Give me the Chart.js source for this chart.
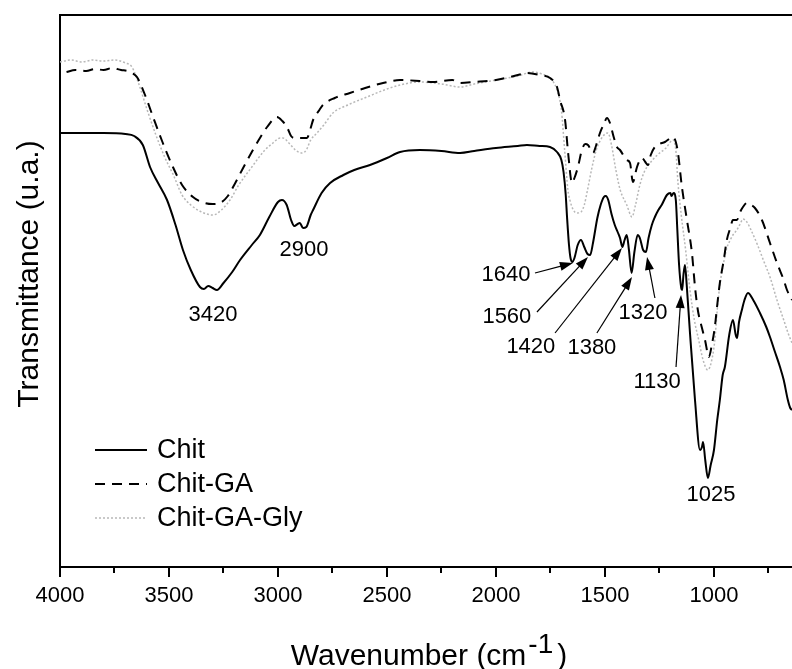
<!DOCTYPE html>
<html>
<head>
<meta charset="utf-8">
<title>FTIR - Chit / Chit-GA / Chit-GA-Gly</title>
<script src="https://cdn.jsdelivr.net/npm/chart.js@4.4.0/dist/chart.umd.min.js"></script>
<style>
  html, body { margin: 0; padding: 0; background: #fff; overflow: hidden; }
  canvas { display: block; }
</style>
</head>
<body>
<canvas id="ftirChart" width="792" height="669"></canvas>
<script>
// wavenumber (cm-1) and transmittance (arbitrary units)

const chitWn = [4000, 3900, 3800, 3700, 3660, 3620, 3587, 3550, 3509, 3470, 3436, 3400, 3358, 3340, 3320, 3300, 3280, 3250, 3210, 3174,
  3120, 3083, 3040, 3000, 2982, 2960, 2940, 2925, 2910, 2900, 2885, 2870, 2850, 2839, 2800, 2761, 2700, 2650, 2578, 2500,
  2440, 2349, 2250, 2165, 2100, 2000, 1900, 1858, 1800, 1752, 1720, 1700, 1690, 1680, 1674, 1665, 1658, 1650, 1640, 1625,
  1610, 1595, 1580, 1568, 1555, 1535, 1520, 1505, 1496, 1485, 1470, 1455, 1440, 1431, 1420, 1410, 1400, 1390, 1378, 1365,
  1350, 1340, 1325, 1312, 1300, 1285, 1271, 1255, 1240, 1216, 1200, 1195, 1185, 1175, 1168, 1160, 1150, 1146, 1140, 1133,
  1125, 1110, 1087, 1064, 1055, 1050, 1040, 1028, 1015, 1000, 985, 973, 960, 950, 930, 913, 900, 894, 885, 872,
  860, 844, 820, 789, 760, 743, 720, 697, 680, 661, 650, 642];
const chitT = [434, 434, 434, 433, 431, 422, 400, 384, 367, 342, 317, 297, 280, 278, 281, 279, 277, 284, 295, 307,
  322, 332, 350, 365, 367, 362, 347, 341, 343, 344, 339, 340, 352, 357, 374, 384, 392, 397, 402, 409,
  415, 417, 416, 414, 416, 419, 421, 422, 421, 420, 415, 407, 395, 372, 350, 322, 309, 305, 309, 322,
  327, 320, 313, 312, 324, 349, 362, 370, 371, 367, 353, 342, 334, 329, 320, 327, 332, 317, 294, 315,
  332, 329, 317, 315, 329, 342, 350, 357, 362, 372, 374, 371, 374, 367, 337, 302, 279, 277, 292, 302,
  282, 234, 167, 117, 120, 125, 107, 89, 102, 117, 147, 167, 192, 200, 232, 247, 232, 229, 245, 257,
  267, 274, 267, 254, 240, 230, 215, 200, 187, 167, 159, 157];

const chitGaWn = [3970, 3930, 3880, 3840, 3800, 3760, 3720, 3690, 3670, 3647, 3610, 3573, 3530, 3482, 3440, 3390, 3350, 3300, 3266, 3230,
  3206, 3160, 3115, 3080, 3050, 3005, 2980, 2959, 2940, 2925, 2890, 2867, 2850, 2839, 2810, 2794, 2740, 2670, 2600, 2518,
  2440, 2350, 2289, 2200, 2165, 2100, 2000, 1936, 1880, 1858, 1800, 1752, 1720, 1706, 1683, 1669, 1651, 1640, 1624, 1606,
  1590, 1578, 1555, 1540, 1523, 1505, 1491, 1477, 1460, 1445, 1431, 1400, 1385, 1372, 1353, 1330, 1315, 1303, 1290, 1271,
  1250, 1225, 1200, 1188, 1175, 1165, 1147, 1124, 1101, 1087, 1074, 1055, 1041, 1023, 1010, 996, 985, 973, 955, 941,
  925, 913, 895, 880, 867, 849, 830, 812, 780, 743, 711, 680, 665, 642];
const chitGaT = [495, 497, 496, 498, 497, 499, 497, 496, 494, 490, 472, 450, 425, 400, 382, 370, 365, 363, 364, 371,
  380, 399, 417, 430, 440, 450, 446, 440, 431, 429, 429, 429, 439, 447, 457, 462, 469, 474, 479, 484,
  487, 486, 485, 487, 484, 485, 487, 490, 493, 494, 492, 489, 480, 467, 447, 414, 384, 389, 400, 417,
  423, 422, 414, 422, 434, 443, 449, 444, 430, 420, 417, 407, 404, 385, 400, 409, 405, 402, 412, 420,
  423, 425, 429, 430, 425, 414, 380, 347, 314, 280, 257, 239, 227, 210, 222, 240, 262, 284, 307, 327,
  339, 347, 347, 355, 360, 364, 362, 359, 347, 324, 304, 287, 277, 267];

const chitGaGlyWn = [4000, 3950, 3900, 3850, 3800, 3750, 3700, 3670, 3640, 3600, 3560, 3520, 3480, 3440, 3400, 3340, 3298, 3260, 3220, 3180,
  3120, 3060, 3023, 2990, 2977, 2950, 2920, 2890, 2870, 2850, 2821, 2790, 2748, 2680, 2592, 2500, 2440, 2350, 2250, 2165,
  2100, 2000, 1900, 1830, 1790, 1752, 1720, 1700, 1685, 1670, 1661, 1645, 1628, 1610, 1595, 1580, 1560, 1540, 1520, 1500,
  1486, 1470, 1450, 1430, 1400, 1376, 1360, 1340, 1320, 1300, 1260, 1220, 1188, 1175, 1165, 1150, 1130, 1110, 1090, 1070,
  1050, 1028, 1010, 996, 985, 973, 955, 941, 925, 913, 895, 880, 867, 849, 830, 800, 770, 743, 711, 680,
  660, 642];
const chitGaGlyT = [505, 507, 505, 507, 506, 507, 504, 500, 484, 457, 432, 410, 392, 372, 362, 354, 352, 357, 367, 382,
  400, 417, 424, 429, 429, 424, 417, 414, 417, 427, 434, 442, 454, 462, 470, 478, 482, 485, 483, 480,
  483, 487, 491, 495, 493, 489, 477, 457, 417, 377, 367, 357, 354, 355, 362, 377, 399, 417, 427, 433,
  434, 422, 397, 377, 362, 350, 362, 382, 395, 402, 412, 419, 427, 417, 384, 352, 317, 277, 247, 227,
  207, 197, 207, 227, 257, 282, 305, 319, 327, 332, 337, 343, 348, 345, 337, 322, 305, 290, 267, 247,
  234, 224];

const seriesNames = ['Chit', 'Chit-GA', 'Chit-GA-Gly'];

// x axis: reversed, 4000 -> ~640 cm-1
const xMajorTicks = [4000, 3500, 3000, 2500, 2000, 1500, 1000];
const xMinorTicks = [3750, 3250, 2750, 2250, 1750, 1250, 750];

// peak labels: text, text anchor, arrow tail/tip (wavenumber, transmittance)
const peakLabels = ['3420', '2900', '1640', '1560', '1420', '1380', '1320', '1130', '1025'];
const peakTextAt = [[3298, 252], [2881, 317], [1954, 292], [1950, 250], [1840, 220], [1560, 219], [1326, 254], [1261, 185], [1014, 72]];
const peakArrowFrom = [null, null, [1821, 294], [1812, 255], [1729, 234], [1537, 234], [1271, 269], [1174, 200], null];
const peakArrowTo = [null, null, [1647, 304], [1578, 310], [1422, 319], [1376, 290], [1307, 310], [1151, 272], null];

const FONT = '"Liberation Sans", Arial, Helvetica, sans-serif';

const toPoints = (wn, t) => wn.map((w, i) => ({ x: w, y: t[i] }));

// tick marks: long for the labelled ones, short in between
const axisTicks = {
    id: 'axisTicks',
    afterDraw(chart) {
        const { ctx, chartArea, scales: { x } } = chart;
        ctx.save();
        ctx.strokeStyle = '#000';
        ctx.lineWidth = 2;
        const mark = (v, len) => {
            const px = Math.round(x.getPixelForValue(v));
            ctx.beginPath();
            ctx.moveTo(px, chartArea.bottom);
            ctx.lineTo(px, chartArea.bottom + len);
            ctx.stroke();
        };
        xMajorTicks.forEach(v => mark(v, 10));
        xMinorTicks.forEach(v => mark(v, 6));
        ctx.restore();
    }
};

// axis titles drawn by hand so the cm-1 exponent can be raised
const axisTitles = {
    id: 'axisTitles',
    afterDraw(chart) {
        const { ctx, chartArea } = chart;
        ctx.save();
        ctx.fillStyle = '#000';
        ctx.textBaseline = 'alphabetic';

        // y title
        ctx.font = '30px ' + FONT;
        ctx.translate(38, (chartArea.top + chartArea.bottom) / 2 - 17);
        ctx.rotate(-Math.PI / 2);
        ctx.textAlign = 'center';
        ctx.fillText('Transmittance (u.a.)', 0, 0);
        ctx.setTransform(1, 0, 0, 1, 0, 0);

        // x title, raised exponent
        const main = 'Wavenumber (cm', sup = '-1', close = ')';
        ctx.font = '30px ' + FONT;
        const wMain = ctx.measureText(main).width;
        const wClose = ctx.measureText(close).width;
        ctx.font = '28px ' + FONT;
        const wSup = ctx.measureText(sup).width;
        const total = wMain + 2 + wSup + 4 + wClose;
        const x0 = (chartArea.left + chartArea.right) / 2 + 3 - total / 2;
        const base = 665;
        ctx.textAlign = 'left';
        ctx.font = '30px ' + FONT;
        ctx.fillText(main, x0, base);
        ctx.fillText(close, x0 + wMain + 2 + wSup + 4, base);
        ctx.font = '28px ' + FONT;
        ctx.fillText(sup, x0 + wMain + 2, base - 12);
        ctx.restore();
    }
};

// peak labels with arrows
const peakNotes = {
    id: 'peakNotes',
    afterDatasetsDraw(chart) {
        const { ctx, scales: { x, y } } = chart;
        ctx.save();
        ctx.fillStyle = '#000';
        ctx.strokeStyle = '#000';
        ctx.font = '22px ' + FONT;
        ctx.textAlign = 'center';
        ctx.textBaseline = 'middle';
        peakLabels.forEach((t, i) => {
            const [w, v] = peakTextAt[i];
            ctx.fillText(t, x.getPixelForValue(w), y.getPixelForValue(v));
            if (!peakArrowFrom[i]) return;
            const x1 = x.getPixelForValue(peakArrowFrom[i][0]), y1 = y.getPixelForValue(peakArrowFrom[i][1]);
            const x2 = x.getPixelForValue(peakArrowTo[i][0]), y2 = y.getPixelForValue(peakArrowTo[i][1]);
            const a = Math.atan2(y2 - y1, x2 - x1);
            const hl = 13, hw = 4.5;
            ctx.lineWidth = 1.2;
            ctx.beginPath();
            ctx.moveTo(x1, y1);
            ctx.lineTo(x2 - Math.cos(a) * hl * 0.8, y2 - Math.sin(a) * hl * 0.8);
            ctx.stroke();
            ctx.beginPath();
            ctx.moveTo(x2, y2);
            ctx.lineTo(x2 - Math.cos(a) * hl - Math.sin(a) * hw, y2 - Math.sin(a) * hl + Math.cos(a) * hw);
            ctx.lineTo(x2 - Math.cos(a) * hl + Math.sin(a) * hw, y2 - Math.sin(a) * hl - Math.cos(a) * hw);
            ctx.closePath();
            ctx.fill();
        });
        ctx.restore();
    }
};

// legend inside the plot, bottom left
const insideLegend = {
    id: 'insideLegend',
    afterDatasetsDraw(chart) {
        const { ctx, chartArea } = chart;
        ctx.save();
        ctx.font = '27px ' + FONT;
        ctx.textBaseline = 'middle';
        ctx.textAlign = 'left';
        chart.data.datasets.forEach((ds, i) => {
            const yy = chartArea.bottom - 117 + i * 34;
            const xl = chartArea.left + 35;
            ctx.strokeStyle = ds.borderColor;
            ctx.lineWidth = ds.borderWidth;
            ctx.setLineDash(ds.borderDash || []);
            ctx.beginPath();
            ctx.moveTo(xl, yy);
            ctx.lineTo(xl + 52, yy);
            ctx.stroke();
            ctx.setLineDash([]);
            ctx.fillStyle = '#000';
            ctx.fillText(ds.label, xl + 62, yy + 1);
        });
        ctx.restore();
    }
};

new Chart(document.getElementById('ftirChart'), {
    type: 'line',
    data: {
        datasets: [
            {
                label: seriesNames[0],
                data: toPoints(chitWn, chitT),
                borderColor: '#000',
                borderWidth: 2,
                pointRadius: 0,
                cubicInterpolationMode: 'monotone'
            },
            {
                label: seriesNames[1],
                data: toPoints(chitGaWn, chitGaT),
                borderColor: '#000',
                borderWidth: 2,
                borderDash: [10, 7],
                pointRadius: 0,
                cubicInterpolationMode: 'monotone'
            },
            {
                label: seriesNames[2],
                data: toPoints(chitGaGlyWn, chitGaGlyT),
                borderColor: '#b8b8b8',
                borderWidth: 1.5,
                borderDash: [2, 2],
                pointRadius: 0,
                cubicInterpolationMode: 'monotone'
            }
        ]
    },
    options: {
        responsive: false,
        animation: false,
        devicePixelRatio: 1,
        layout: { padding: 0 },
        plugins: { legend: { display: false }, tooltip: { enabled: false } },
        scales: {
            x: {
                type: 'linear',
                position: 'bottom',
                reverse: true,
                min: 642, max: 4000,
                grid: { display: false, drawTicks: false },
                border: { display: true, color: '#000', width: 2 },
                ticks: {
                    color: '#000',
                    font: { family: FONT, size: 22 },
                    padding: 16,
                    maxRotation: 0,
                    autoSkip: false,
                    callback: v => String(v)
                },
                afterBuildTicks: s => { s.ticks = xMajorTicks.map(v => ({ value: v })); },
                afterFit: s => { s.height = 102; }
            },
            xTop: {
                type: 'linear',
                position: 'top',
                min: 0, max: 1,
                grid: { display: false, drawTicks: false },
                border: { display: true, color: '#000', width: 2 },
                ticks: { display: false },
                afterFit: s => { s.height = 15; }
            },
            y: {
                type: 'linear',
                min: 0, max: 552,
                grid: { display: false, drawTicks: false },
                border: { display: true, color: '#000', width: 2 },
                ticks: { display: false },
                afterFit: s => { s.width = 60; }
            }
        }
    },
    plugins: [axisTicks, axisTitles, peakNotes, insideLegend]
});
</script>
</body>
</html>
